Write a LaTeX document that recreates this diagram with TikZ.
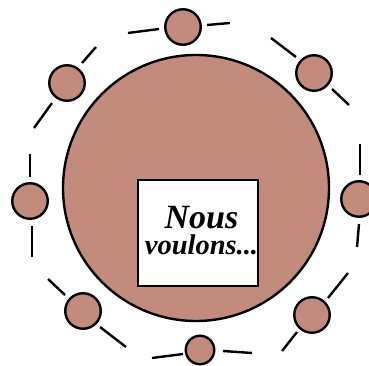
\documentclass[tikz,border=0pt]{standalone}
\usepackage{fontspec}
\setmainfont{Liberation Serif}
\definecolor{chair}{RGB}{194,139,123}

\begin{document}
\begin{tikzpicture}[x=1pt,y=-1pt,line width=2.4pt,
      seat/.style={circle,draw,fill=chair,inner sep=0pt,minimum size=35.5pt},
      small seat/.style={seat,minimum size=28.5pt},
      title/.style={anchor=base,inner sep=0pt,align=center,
        font=\fontsize{28.5}{26}\selectfont\bfseries\itshape}]
      \useasboundingbox (0,0) rectangle (369,366);

      % table and sheet
      \node[circle,draw,fill=chair,inner sep=0pt,minimum size=266pt] (table) at (196,188) {};
      \node[draw,fill=white,inner sep=0pt,minimum width=119.5pt,minimum height=106pt] (sheet) at (198,233) {};
      \node[title] (motto) at (201.5,254)
        {\fontsize{34}{26}\selectfont Nous\\\fontsize{28.5}{26}\selectfont voulons...};

      % seats around
      \node[seat] (s1) at (183,27) {};
      \node[seat] (s2) at (314,73) {};
      \node[seat] (s3) at (359,199) {};
      \node[seat] (s4) at (312,315) {};
      \node[small seat] (s5) at (200,350) {};
      \node[seat] (s6) at (83,311) {};
      \node[seat] (s7) at (30,201) {};
      \node[seat] (s8) at (67,83) {};

      % dashes of the ring
      \draw (128,33) -- (159,29);
      \draw (207,25) -- (230,23);
      \draw (271,38) -- (296,57);
      \draw (332,89) -- (349,105);
      \draw (360,144) -- (360,175);
      \draw (359,224) -- (357,247);
      \draw (348,273) -- (328,298);
      \draw (297,332) -- (282,351);
      \draw (223,351) -- (252,353);
      \draw (152,358) -- (183,354);
      \draw (100,327) -- (126,347);
      \draw (48,279) -- (65,295);
      \draw (32,226) -- (32,257);
      \draw (30,154) -- (30,177);
      \draw (34,128) -- (52,103);
      \draw (82,63) -- (96,47);
\end{tikzpicture}
\end{document}
